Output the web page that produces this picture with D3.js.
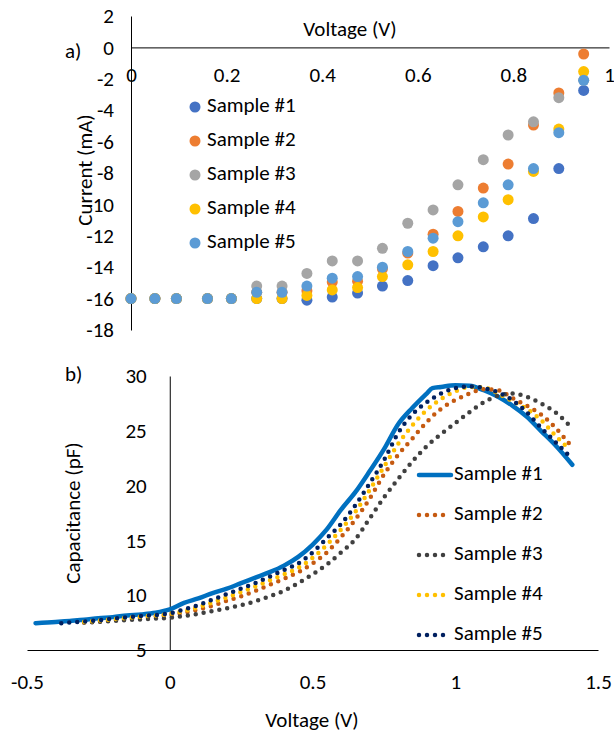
<!doctype html>
<html>
<head>
<meta charset="utf-8">
<script src="https://d3js.org/d3.v7.min.js"></script>
<style>
  body { margin: 0; background: #fff; }
  svg text { font-family: Carlito, Calibri, Lato, sans-serif; fill: #000; }
</style>
</head>
<body>
<svg width="614" height="740"></svg>
<script>
// ---- a) current vs voltage ----
var ivVolt = [0, 0.05, 0.095, 0.16, 0.21, 0.263, 0.316, 0.368, 0.421, 0.474, 0.526, 0.579, 0.632, 0.684, 0.737, 0.789, 0.842, 0.895, 0.947];
var ivS1 = [-16, -16, -16, -16, -16, -16, -16, -16.1, -15.9, -15.65, -15.2, -14.85, -13.9, -13.4, -12.7, -12.0, -10.9, -7.72, -2.74];
var ivS2 = [-16, -16, -16, -16, -16, -15.6, -15.6, -15.5, -14.95, -14.9, -14.1, -13.1, -11.9, -10.45, -8.96, -7.43, -4.95, -2.9, -0.42];
var ivS3 = [-16, -16, -16, -16, -16, -15.2, -15.2, -14.4, -13.6, -13.6, -12.8, -11.2, -10.35, -8.75, -7.15, -5.58, -4.74, -3.2, -2.1];
var ivS4 = [-16, -16, -16, -16, -16, -16, -16, -15.8, -15.45, -15.3, -14.6, -13.85, -13.0, -12.0, -10.8, -9.7, -7.9, -5.2, -1.54];
var ivS5 = [-16, -16, -16, -16, -16, -15.6, -15.6, -15.2, -14.7, -14.6, -14.0, -13.0, -12.15, -11.1, -9.9, -8.75, -7.72, -5.43, -2.1];
var ivXTicks = [0, 0.2, 0.4, 0.6, 0.8, 1];
var ivYTicks = [2, 0, -2, -4, -6, -8, -10, -12, -14, -16, -18];

// ---- b) capacitance vs voltage ----
var cvS1Volt = [-0.47, -0.4, -0.35, -0.3, -0.25, -0.2, -0.15, -0.1, -0.05, 0, 0.05, 0.1, 0.15, 0.2, 0.25, 0.3, 0.35, 0.4, 0.45, 0.5,
                0.55, 0.6, 0.65, 0.7, 0.75, 0.8, 0.85, 0.9, 0.92, 0.95, 1.0, 1.05, 1.1, 1.15, 1.2, 1.25, 1.3, 1.35, 1.41];
var cvS1 = [7.45, 7.55, 7.65, 7.75, 7.9, 8.0, 8.15, 8.25, 8.4, 8.7, 9.3, 9.7, 10.2, 10.6, 11.1, 11.6, 12.1, 12.7, 13.5, 14.6,
            16.0, 17.8, 19.4, 21.3, 23.3, 25.6, 27.1, 28.4, 28.9, 29.0, 29.15, 29.1, 28.7, 28.1, 27.3, 26.3, 25.0, 23.7, 21.9];
var cvVolt = [-0.38, -0.3, -0.2, -0.1, 0, 0.05, 0.1, 0.15, 0.2, 0.25, 0.3, 0.35, 0.4, 0.45, 0.5, 0.55, 0.6, 0.65, 0.7, 0.75,
              0.8, 0.85, 0.9, 0.95, 1.0, 1.05, 1.1, 1.15, 1.2, 1.25, 1.3, 1.35, 1.4];
var cvS2 = [null, 7.5, 7.7, 7.95, 8.2, 8.4, 8.7, 9.05, 9.5, 9.9, 10.4, 10.95, 11.5, 12.1, 12.9, 13.9, 15.3, 16.9, 18.8, 21.0,
            22.8, 24.3, 25.8, 27.0, 27.8, 28.4, 28.8, 28.7, 28.0, 27.3, 26.5, 25.3, 23.8];
var cvS3 = [null, 7.5, 7.65, 7.8, 7.95, 8.1, 8.3, 8.55, 8.8, 9.1, 9.45, 9.9, 10.4, 11.1, 11.9, 12.8, 13.9, 15.1, 17.0, 18.9,
            20.6, 22.2, 23.6, 24.7, 25.7, 26.7, 27.6, 28.2, 28.4, 28.1, 27.5, 26.7, 25.5];
var cvS4 = [null, 7.55, 7.8, 8.05, 8.3, 8.55, 8.9, 9.35, 9.8, 10.3, 10.8, 11.35, 11.9, 12.5, 13.4, 14.6, 16.0, 17.6, 19.6, 21.7,
            23.8, 25.5, 26.9, 27.9, 28.6, 29.0, 28.95, 28.4, 27.7, 27.0, 26.0, 24.6, 23.3];
var cvS5 = [7.45, 7.6, 7.85, 8.1, 8.35, 8.7, 9.1, 9.6, 10.1, 10.6, 11.1, 11.7, 12.3, 12.9, 13.9, 15.2, 16.5, 18.2, 20.2, 22.3,
            24.8, 26.5, 27.6, 28.4, 28.9, 29.05, 28.9, 28.5, 27.8, 26.7, 25.3, 24.0, 22.7];
var cvXTicks = [-0.5, 0, 0.5, 1, 1.5];
var cvYTicks = [5, 10, 15, 20, 25, 30];

var sampleNames = ["Sample #1", "Sample #2", "Sample #3", "Sample #4", "Sample #5"];
var ivColors = ["#4472C4", "#ED7D31", "#A5A5A5", "#FFC000", "#5B9BD5"];
var cvColors = ["#0070C0", "#C55A11", "#404040", "#FFC000", "#002060"];

var fs = 21;
var svg = d3.select("svg");
var plain = function(d) { return String(d); };   // keeps "-" hyphen and "0" instead of "0.0"

// ===== top chart =====
var xTop = d3.scaleLinear().domain([0, 1]).range([131, 609]);
var yTop = d3.scaleLinear().domain([-18, 2]).range([330, 16]);

var gxTop = svg.append("g")
    .attr("transform", "translate(0," + yTop(0) + ")")
    .call(d3.axisBottom(xTop).tickValues(ivXTicks).tickSize(0).tickPadding(20).tickFormat(plain));
gxTop.select(".domain").attr("stroke", "#000");

var gyTop = svg.append("g")
    .attr("transform", "translate(" + xTop(0) + ",0)")
    .call(d3.axisLeft(yTop).tickValues(ivYTicks).tickSize(0).tickPadding(17).tickFormat(plain));
gyTop.select(".domain").attr("stroke", "#000");

var ivSeries = [ivS1, ivS2, ivS3, ivS4, ivS5];
ivSeries.forEach(function(s, i) {
  svg.append("g").selectAll("circle")
    .data(s)
    .enter().append("circle")
    .attr("cx", function(d, j) { return xTop(ivVolt[j]); })
    .attr("cy", function(d) { return yTop(d); })
    .attr("r", 5.5)
    .attr("fill", ivColors[i]);
});

svg.append("text").attr("x", 350).attr("y", 31).attr("text-anchor", "middle")
   .attr("dominant-baseline", "middle").attr("font-size", fs).text("Voltage (V)");
svg.append("text").attr("transform", "translate(87,170) rotate(-90)").attr("text-anchor", "middle")
   .attr("dominant-baseline", "middle").attr("font-size", fs).text("Current (mA)");
svg.append("text").attr("x", 65).attr("y", 53).attr("dominant-baseline", "middle")
   .attr("font-size", fs).text("a)");

var legTop = svg.append("g");
sampleNames.forEach(function(n, i) {
  var y = 107 + i * 34;
  legTop.append("circle").attr("cx", 195).attr("cy", y).attr("r", 5.5).attr("fill", ivColors[i]);
  legTop.append("text").attr("x", 207).attr("y", y).attr("dominant-baseline", "middle")
     .attr("font-size", fs).text(n);
});

// ===== bottom chart =====
var xBot = d3.scaleLinear().domain([-0.5, 1.5]).range([27, 598]);
var yBot = d3.scaleLinear().domain([5, 30]).range([650, 376]);

var gxBot = svg.append("g")
    .attr("transform", "translate(0," + yBot(5) + ")")
    .call(d3.axisBottom(xBot).tickValues(cvXTicks).tickSize(0).tickPadding(24).tickFormat(plain));
gxBot.select(".domain").attr("stroke", "#000");

var gyBot = svg.append("g")
    .attr("transform", "translate(" + xBot(0) + ",0)")
    .call(d3.axisLeft(yBot).tickValues(cvYTicks).tickSize(0).tickPadding(23).tickFormat(plain));
gyBot.select(".domain").attr("stroke", "#000");

svg.selectAll(".tick text").attr("font-size", fs).attr("font-family", null).attr("fill", "#000");
gyBot.selectAll(".tick").filter(function(d) { return d === 5; }).select("text").attr("fill", "#666");

var line = d3.line()
    .defined(function(d) { return d[1] != null; })
    .x(function(d) { return xBot(d[0]); })
    .y(function(d) { return yBot(d[1]); })
    .curve(d3.curveMonotoneX);

svg.append("path")
   .attr("d", line(cvS1Volt.map(function(v, j) { return [v, cvS1[j]]; })))
   .attr("fill", "none").attr("stroke", cvColors[0]).attr("stroke-width", 4.5)
   .attr("stroke-linejoin", "round").attr("stroke-linecap", "round");

[cvS2, cvS3, cvS4, cvS5].forEach(function(s, i) {
  svg.append("path")
     .attr("d", line(cvVolt.map(function(v, j) { return [v, s[j]]; })))
     .attr("fill", "none").attr("stroke", cvColors[i + 1]).attr("stroke-width", 4.5)
     .attr("stroke-linecap", "round").attr("stroke-dasharray", "0 8");
});

svg.append("text").attr("x", 312).attr("y", 722).attr("text-anchor", "middle")
   .attr("dominant-baseline", "middle").attr("font-size", fs).text("Voltage (V)");
svg.append("text").attr("transform", "translate(75,513) rotate(-90)").attr("text-anchor", "middle")
   .attr("dominant-baseline", "middle").attr("font-size", fs).text("Capacitance (pF)");
svg.append("text").attr("x", 65).attr("y", 376).attr("dominant-baseline", "middle")
   .attr("font-size", fs).text("b)");

var legBot = svg.append("g");
sampleNames.forEach(function(n, i) {
  var y = 475 + i * 40;
  var l = legBot.append("line").attr("x1", 419).attr("x2", 451).attr("y1", y).attr("y2", y)
     .attr("stroke", cvColors[i]).attr("stroke-width", 4.5).attr("stroke-linecap", "round");
  if (i > 0) l.attr("stroke-dasharray", "0 8");
  legBot.append("text").attr("x", 454).attr("y", y).attr("dominant-baseline", "middle")
     .attr("font-size", fs).text(n);
});
</script>
</body>
</html>
